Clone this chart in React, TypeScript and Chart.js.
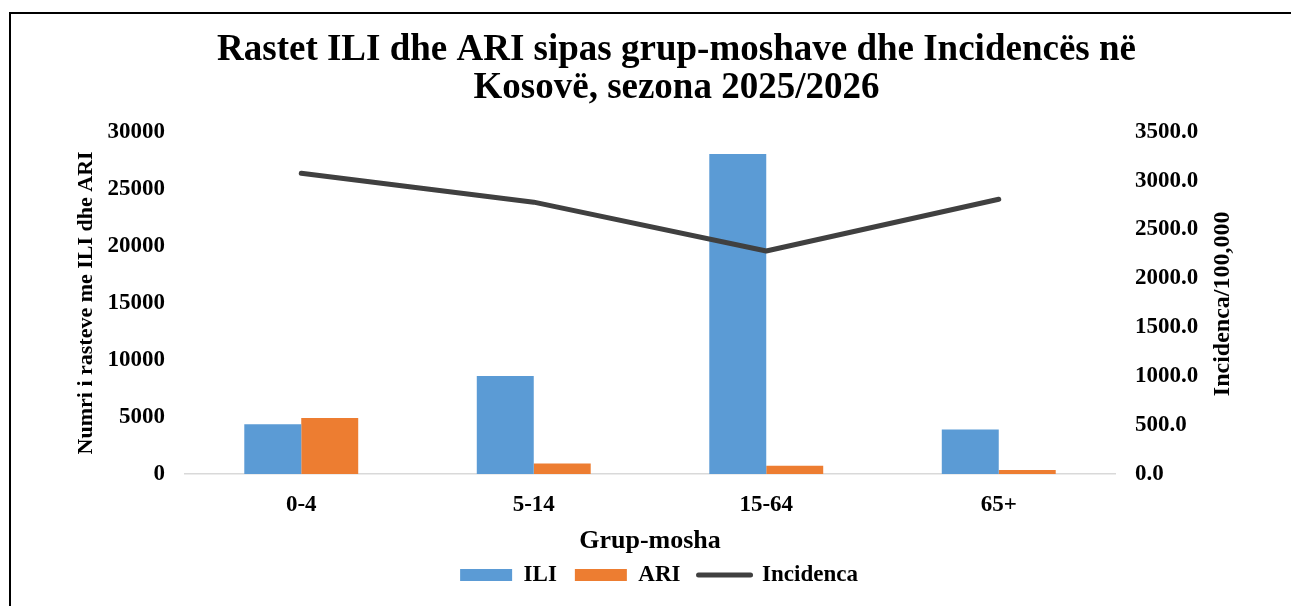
import React, { useEffect, useRef } from "react";
import { Chart, registerables } from "chart.js";

Chart.register(...registerables);

const categories = ["0-4", "5-14", "15-64", "65+"];
const iliValues = [4350, 8600, 28050, 3900];
const ariValues = [4900, 910, 720, 350];
const incidenceValues = [3075, 2780, 2280, 2810];
const titleLines = ["Rastet ILI dhe ARI sipas grup-moshave dhe Incidencës në", "Kosovë, sezona 2025/2026"];
const leftAxisTitle = "Numri i rasteve me ILI dhe ARI";
const rightAxisTitle = "Incidenca/100,000";
const xAxisTitle = "Grup-mosha";

const FONT = "'Liberation Serif', 'Times New Roman', serif";

const framePlugin = {
  id: "frame",
  afterLayout(chart: any) {
    if (chart.legend) {
      chart.legend.left += 9;
      chart.legend.right += 9;
    }
  },
  beforeDraw(chart: any) {
    const ctx = chart.ctx;
    ctx.save();
    ctx.fillStyle = "#ffffff";
    ctx.fillRect(0, 0, chart.width, chart.height);
    ctx.strokeStyle = "#000000";
    ctx.lineWidth = 2;
    ctx.beginPath();
    ctx.moveTo(10, chart.height);
    ctx.lineTo(10, 13);
    ctx.lineTo(chart.width, 13);
    ctx.stroke();
    ctx.restore();
  },
  afterDraw(chart: any) {
    const ctx = chart.ctx;
    const area = chart.chartArea;
    ctx.save();
    ctx.translate(1223, (area.top + area.bottom) / 2 + 1);
    ctx.rotate(-Math.PI / 2);
    ctx.fillStyle = "#000";
    ctx.font = `bold 24px ${FONT}`;
    ctx.textAlign = "center";
    ctx.textBaseline = "middle";
    ctx.fillText(rightAxisTitle, 0, 0);
    ctx.restore();
  },
};

export default function App() {
  const ref = useRef<HTMLCanvasElement>(null);
  useEffect(() => {
    document.body.style.margin = "0";
    const chart = new Chart(ref.current!, {
      type: "bar",
      data: {
        labels: categories,
        datasets: [
          {
            label: "ILI",
            data: iliValues,
            backgroundColor: "#5B9BD5",
            yAxisID: "y",
            order: 2,
          },
          {
            label: "ARI",
            data: ariValues,
            backgroundColor: "#ED7D31",
            yAxisID: "y",
            order: 2,
          },
          {
            type: "line",
            label: "Incidenca",
            data: incidenceValues,
            borderColor: "#404040",
            backgroundColor: "#404040",
            borderWidth: 5,
            borderCapStyle: "round",
            borderJoinStyle: "round",
            pointRadius: 0,
            yAxisID: "y1",
            order: 1,
          } as any,
        ],
      },
      options: {
        animation: false,
        responsive: false,
        maintainAspectRatio: false,
        layout: { padding: { left: 62, right: 0, top: 0, bottom: 9.5 } },
        datasets: { bar: { categoryPercentage: 0.49, barPercentage: 1 } },
        plugins: {
          title: {
            display: true,
            text: titleLines,
            color: "#000",
            font: { family: FONT, size: 37, weight: "bold", lineHeight: 1.01 },
            padding: { top: 32, bottom: 25 },
          },
          legend: {
            position: "bottom",
            fullSize: false,
            labels: {
              color: "#000",
              font: { family: FONT, size: 23, weight: "bold" },
              usePointStyle: true,
              pointStyleWidth: 52,
              boxHeight: 12,
              padding: 18,
              generateLabels: (c: any) =>
                c.data.datasets.map((ds: any, i: number) => ({
                  text: ds.label,
                  fillStyle: ds.backgroundColor,
                  strokeStyle: ds.type === "line" ? ds.borderColor : ds.backgroundColor,
                  lineWidth: ds.type === "line" ? 5 : 0,
                  lineCap: "round",
                  pointStyle: ds.type === "line" ? "line" : "rect",
                  fontColor: "#000",
                  datasetIndex: i,
                  hidden: false,
                })),
            },
          },
          tooltip: { enabled: false },
        },
        scales: {
          x: {
            grid: { display: false, drawTicks: false },
            border: { display: true, color: "#D9D9D9", width: 1.5 },
            ticks: { color: "#000", font: { family: FONT, size: 23, weight: "bold" }, padding: 17 },
            title: {
              display: true,
              text: xAxisTitle,
              color: "#000",
              font: { family: FONT, size: 26, weight: "bold", lineHeight: 0.35 },
              padding: { top: 0, bottom: 0 },
            },
            afterFit: (s: any) => {
              s.height = 71.5;
            },
          },
          y: {
            position: "left",
            min: 0,
            max: 30000,
            grid: { display: false, drawTicks: false },
            border: { display: false },
            ticks: {
              stepSize: 5000,
              color: "#000",
              font: { family: FONT, size: 23, weight: "bold" },
              padding: 20,
              callback: (v: any) => String(v),
            },
            title: {
              display: true,
              text: leftAxisTitle,
              color: "#000",
              font: { family: FONT, size: 22, weight: "bold", lineHeight: 1.2 },
              padding: { top: 11, bottom: 0 },
            },
            afterFit: (s: any) => {
              s.width = 123;
            },
          },
          y1: {
            position: "right",
            min: 0,
            max: 3500,
            grid: { display: false, drawTicks: false },
            border: { display: false },
            ticks: {
              stepSize: 500,
              color: "#000",
              font: { family: FONT, size: 23, weight: "bold" },
              padding: 20,
              callback: (v: any) => Number(v).toFixed(1),
            },
            afterFit: (s: any) => {
              s.width = 176;
            },
          },
        },
      },
      plugins: [framePlugin],
    });
    return () => chart.destroy();
  }, []);
  return (
    <div style={{ position: "absolute", left: 0, top: 0, width: 1291, height: 606 }}>
      <canvas ref={ref} width={1291} height={606} style={{ width: 1291, height: 606 }} />
    </div>
  );
}
